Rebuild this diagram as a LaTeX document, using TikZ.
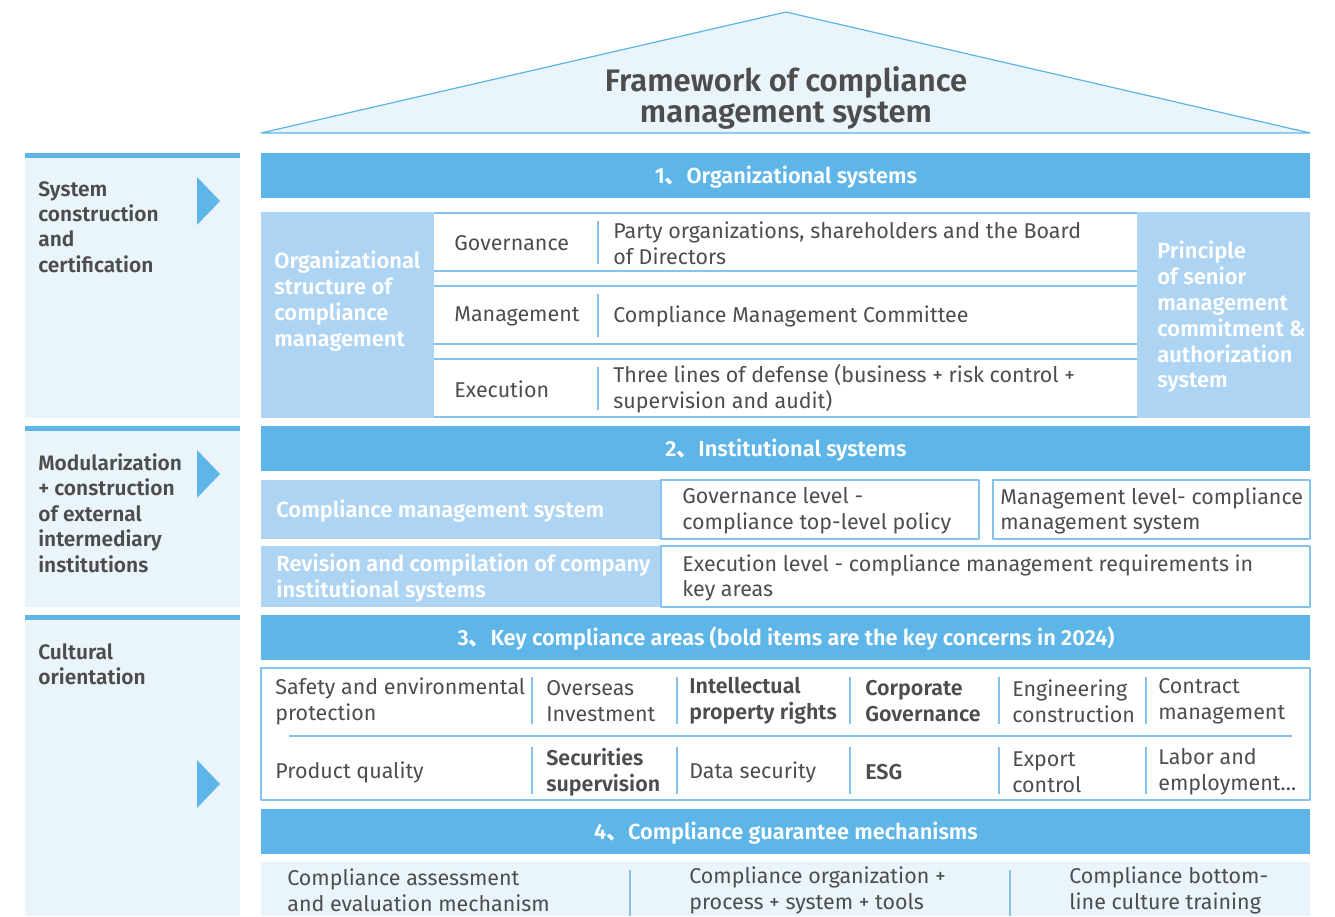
\documentclass[tikz,border=0pt]{standalone}
\usepackage{fontspec}
\setmainfont{Fira Sans}[BoldFont={Fira Sans SemiBold}]
\newfontfamily\cjk{Noto Sans CJK SC}
\definecolor{headblue}{HTML}{5EB5E8}
\definecolor{cellblue}{HTML}{ADD4F2}
\definecolor{paleblue}{HTML}{EAF4FB}
\definecolor{lineblue}{HTML}{86C3EC}
\definecolor{textgray}{HTML}{4D4D4D}
\newcommand{\dun}{{\cjk 、}}

\begin{document}
\begin{tikzpicture}[
  x=0.02cm,
  y=-0.02cm,
  line join=round,
  headbar/.style={fill=headblue,draw=none},
  headtext/.style={text=white,font=\bfseries\fontsize{12.4}{14}\selectfont,inner sep=0pt},
  cellbox/.style={fill=cellblue,draw=none},
  celltext/.style={text=white,font=\bfseries\fontsize{12.5}{14.7}\selectfont,align=left,anchor=west,inner sep=0pt},
  bodytext/.style={text=textgray,font=\fontsize{12.2}{14.7}\selectfont,align=left,anchor=west,inner sep=0pt},
  keytext/.style={bodytext,font=\bfseries\fontsize{12.2}{14.7}\selectfont},
  frame/.style={draw=lineblue,line width=0.7pt},
  divider/.style={draw=lineblue,line width=0.7pt},
  sidepanel/.style={fill=paleblue,draw=none},
  sidetop/.style={fill=headblue,draw=none},
  sidetext/.style={text=textgray,font=\bfseries\fontsize{11.9}{14.5}\selectfont,align=left,anchor=west,inner sep=0pt},
  pointer/.style={fill=headblue,draw=none}
]
  \useasboundingbox (0,0) rectangle (1335,916);

  % Roof with the title.
  \coordinate (roofL) at (261,133);
  \coordinate (roofT) at (786,12);
  \coordinate (roofR) at (1310,133);
  \filldraw[fill=paleblue,draw=headblue,line width=0.7pt] (roofL) -- (roofT) -- (roofR) -- cycle;
  \node[text=textgray,font=\bfseries\fontsize{17.7}{17.2}\selectfont,align=center,inner sep=0pt]
    (title) at (786,98) {Framework of compliance\\management system};

  % Left column: side panels with a top bar and a pointer.
  \foreach \top/\bot/\tip in {153/418/201, 426/607/474, 615/916/784} {
    \fill[sidepanel] (25,\top) rectangle (240,\bot);
    \fill[sidetop] (25,\top) rectangle (240,\top+5);
    \fill[pointer] (197,\tip-24) -- (220,\tip) -- (197,\tip+24) -- cycle;
  }
  \node[sidetext] (sidebuild) at (38,227) {System\\construction\\and\\certification};
  \node[sidetext] (sidemodule) at (38,513) {Modularization\\+ construction\\of external\\intermediary\\institutions};
  \node[sidetext] (sideculture) at (38,664) {Cultural\\orientation};

  % Section headers.
  \foreach \top/\name/\txt in {153/head1/{1\dun Organizational systems},
      426/head2/{2\dun Institutional systems},
      615/head3/{3\dun Key compliance areas (bold items are the key concerns in 2024)},
      809/head4/{4\dun Compliance guarantee mechanisms}} {
    \fill[headbar] (261,\top) rectangle (1310,\top+45);
    \node[headtext] (\name) at (786,\top+24) {\txt};
  }

  % 1. Organizational systems.
  \fill[cellbox] (261,212) rectangle (434,418);
  \fill[cellbox] (1137,212) rectangle (1310,418);
  \node[celltext] (orgcell) at (274,301) {Organizational\\structure of\\compliance\\management};
  \node[celltext] (principle) at (1157,317) {Principle\\of senior\\management\\commitment \&\\authorization\\system};
  \foreach \top/\name/\lab/\txt in {213/gov/Governance/{Party organizations, shareholders and the Board\\of Directors},
      286/mgmt/Management/{Compliance Management Committee},
      359/exec/Execution/{Three lines of defense (business + risk control +\\supervision and audit)}} {
    \draw[frame] (434,\top) -- (1137,\top);
    \draw[frame] (434,\top+58) -- (1137,\top+58);
    \draw[divider] (598,\top+8) -- (598,\top+51);
    \node[bodytext] (\name) at (454,\top+30) {\lab};
    \node[bodytext] (\name text) at (613,\top+30) {\txt};
  }

  % 2. Institutional systems.
  \fill[cellbox] (261,480) rectangle (661,539);
  \fill[cellbox] (261,546) rectangle (661,607);
  \node[celltext] (cmsys) at (276,511) {Compliance management system};
  \node[celltext] (revision) at (276,578) {Revision and compilation of company\\institutional systems};
  \draw[frame] (661,480) rectangle (979,539);
  \draw[frame] (993,480) rectangle (1310,539);
  \draw[frame] (661,546) rectangle (1310,607);
  \node[bodytext] (govlevel) at (682,511) {Governance level -\\compliance top-level policy};
  \node[bodytext] (mgmtlevel) at (1000,511) {Management level- compliance\\management system};
  \node[bodytext] (execlevel) at (682,578) {Execution level - compliance management requirements in\\key areas};

  % 3. Key compliance areas.
  \draw[frame] (261,668) rectangle (1310,800);
  \draw[divider] (289,736) -- (1292,736);
  \foreach \x in {532,677,850,999,1146} {
    \draw[divider] (\x,677) -- (\x,724);
    \draw[divider] (\x,747) -- (\x,794);
  }
  \node[bodytext] (safety) at (275,701) {Safety and environmental\\protection};
  \node[bodytext] (overseas) at (546,701) {Overseas\\Investment};
  \node[keytext] (ip) at (689,701) {Intellectual\\property rights};
  \node[keytext] (corpgov) at (865,701) {Corporate\\Governance};
  \node[bodytext] (engineering) at (1012,701) {Engineering\\construction};
  \node[bodytext] (contract) at (1158,701) {Contract\\management};
  \node[bodytext] (product) at (275,772) {Product quality};
  \node[keytext] (securities) at (546,772) {Securities\\supervision};
  \node[bodytext] (datasec) at (689,772) {Data security};
  \node[keytext] (esg) at (865,772) {ESG};
  \node[bodytext] (export) at (1012,772) {Export\\control};
  \node[bodytext] (labor) at (1158,772) {Labor and\\employment...};

  % 4. Compliance guarantee mechanisms.
  \fill[sidepanel] (261,862) rectangle (1310,916);
  \draw[divider] (630,870) -- (630,916);
  \draw[divider] (1010,870) -- (1010,916);
  \node[bodytext] (assess) at (287,890) {Compliance assessment\\and evaluation mechanism};
  \node[bodytext] (process) at (689,890) {Compliance organization +\\process + system + tools};
  \node[bodytext] (training) at (1069,890) {Compliance bottom-\\line culture training};
\end{tikzpicture}
\end{document}
